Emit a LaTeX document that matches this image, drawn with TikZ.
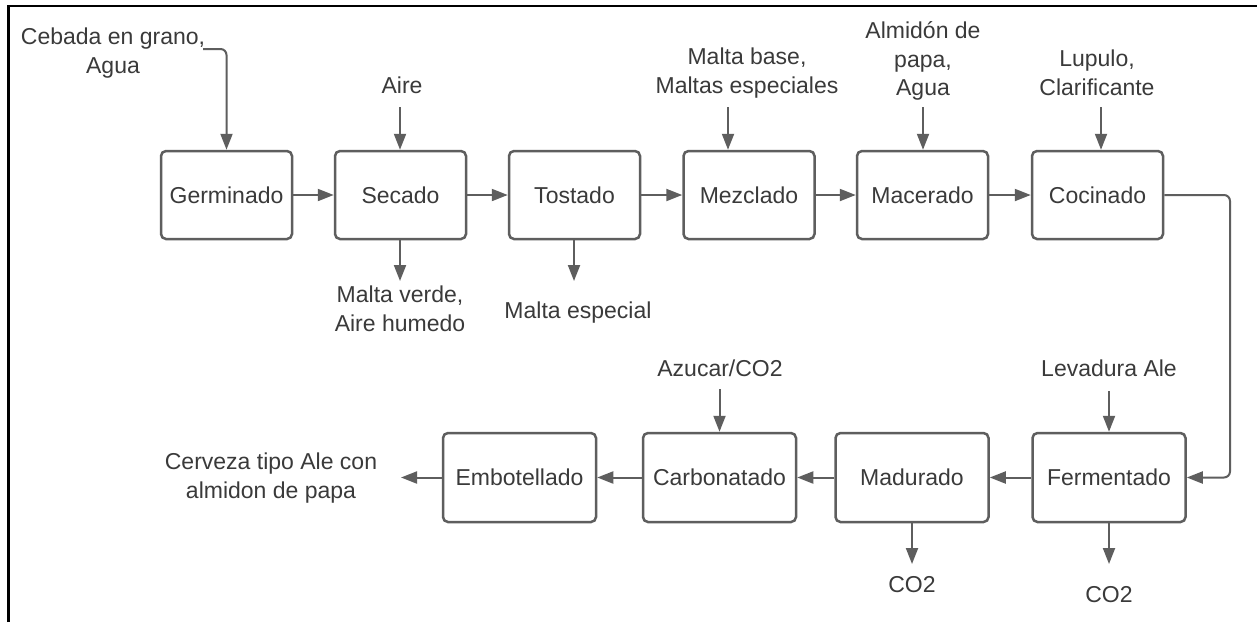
\documentclass[tikz,border=0pt]{standalone}
\usepackage{fontspec}
\setmainfont{Liberation Sans}
\usetikzlibrary{arrows.meta}
\definecolor{linegray}{HTML}{5E5E5E}
\definecolor{textgray}{HTML}{3A3A3A}
\tikzset{
  stepbox/.style={draw=linegray, line width=2.5pt, rounded corners=5pt, minimum width=131pt, minimum height=88pt, inner sep=0pt, text=textgray, font=\fontsize{23}{28.5}\selectfont},
  widebox/.style={stepbox, minimum width=153pt, minimum height=89pt},
  lbl/.style={inner sep=0pt, align=center, text=textgray, font=\fontsize{23}{28.5}\selectfont},
  arr/.style={draw=linegray, line width=2pt, -{Triangle[length=16pt,width=12pt]}},
  frameline/.style={draw=black, line width=2.5pt}
}
\begin{document}
\begin{tikzpicture}[x=1pt,y=-1pt]
\useasboundingbox (0,0) rectangle (1257,622);
\fill[white] (0,0) rectangle (1257,622);
\draw[frameline] (8.7,622) -- (8.7,6) -- (1257,6);

% top row
\node[stepbox] (germ) at (226.5,195) {Germinado};
\node[stepbox] (sec) at (400.5,195) {Secado};
\node[stepbox] (tos) at (574.5,195) {Tostado};
\node[stepbox] (mez) at (749,195) {Mezclado};
\node[stepbox] (mac) at (922.5,195) {Macerado};
\node[stepbox] (coc) at (1097.5,195) {Cocinado};

% bottom row
\node[widebox] (fer) at (1109,477.5) {Fermentado};
\node[widebox] (mad) at (912,477.5) {Madurado};
\node[widebox] (car) at (719.5,477.5) {Carbonatado};
\node[widebox] (emb) at (519.5,477.5) {Embotellado};

% labels
\node[lbl] (ceb) at (113,53) {Cebada en grano,\\Agua};
\node[lbl] (aire) at (402,85) {Aire};
\node[lbl] (mbase) at (747,73) {Malta base,\\Maltas especiales};
\node[lbl] (almid) at (923,61) {Almidón de\\papa,\\Agua};
\node[lbl] (lup) at (1097,73) {Lupulo,\\Clarificante};
\node[lbl] (mverde) at (400,309) {Malta verde,\\Aire humedo};
\node[lbl] (mesp) at (578,313) {Malta especial};
\node[lbl] (azu) at (720,368) {Azucar/CO2};
\node[lbl] (lev) at (1109,368) {Levadura Ale};
\node[lbl] (co2a) at (912,585) {CO2};
\node[lbl] (co2b) at (1109,595) {CO2};
\node[lbl] (cerv) at (271,478) {Cerveza tipo Ale con\\almidon de papa};

% connector end points
\coordinate (cebs) at (203,49);
\coordinate (aires) at (400,107);
\coordinate (mbases) at (728,107);
\coordinate (almids) at (923,107);
\coordinate (lups) at (1101,107);
\coordinate (mverdee) at (400,281);
\coordinate (mespe) at (574,281);
\coordinate (azus) at (719.5,389);
\coordinate (levs) at (1109,391);
\coordinate (co2ae) at (912,564);
\coordinate (co2be) at (1109,564);
\coordinate (cerve) at (401,477.5);
\coordinate (bend) at (1230,340);

% main flow
\draw[arr] (germ) -- (sec);
\draw[arr] (sec) -- (tos);
\draw[arr] (tos) -- (mez);
\draw[arr] (mez) -- (mac);
\draw[arr] (mac) -- (coc);
\draw[arr, rounded corners=6pt] (coc.east) -- (coc.east -| bend) -- (bend |- fer.east) -- (fer.east);
\draw[arr] (fer) -- (mad);
\draw[arr] (mad) -- (car);
\draw[arr] (car) -- (emb);
\draw[arr] (emb.west) -- (cerve);

% inputs
\draw[arr, rounded corners=6pt] (cebs) -| (germ.north);
\draw[arr] (aires) -- (aires |- sec.north);
\draw[arr] (mbases) -- (mbases |- mez.north);
\draw[arr] (almids) -- (almids |- mac.north);
\draw[arr] (lups) -- (lups |- coc.north);
\draw[arr] (azus) -- (azus |- car.north);
\draw[arr] (levs) -- (levs |- fer.north);

% outputs
\draw[arr] (mverdee |- sec.south) -- (mverdee);
\draw[arr] (mespe |- tos.south) -- (mespe);
\draw[arr] (co2ae |- mad.south) -- (co2ae);
\draw[arr] (co2be |- fer.south) -- (co2be);
\end{tikzpicture}
\end{document}
